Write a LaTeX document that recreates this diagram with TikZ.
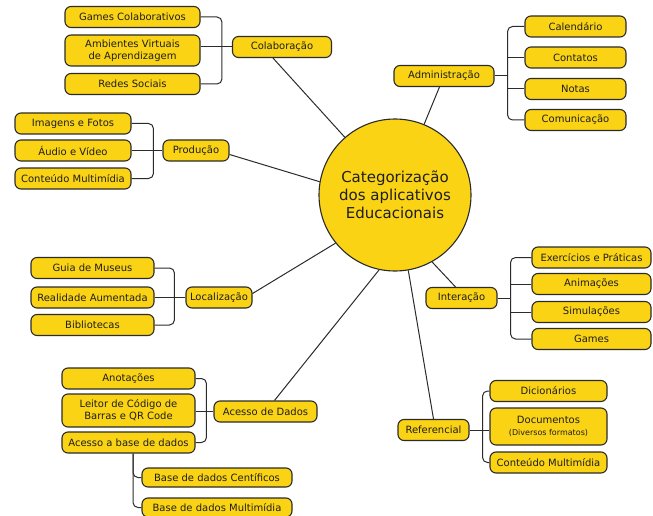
\documentclass[tikz,border=0pt]{standalone}
\usepackage{fontspec}
\setmainfont{DejaVu Sans}
\usetikzlibrary{positioning}
\definecolor{amarelo}{HTML}{FAD315}
\definecolor{contorno}{HTML}{2B2B2B}
\definecolor{texto}{HTML}{1E1E1E}

\begin{document}
\begin{tikzpicture}[
  x=1pt, y=-1pt,
  box/.style={draw=contorno, fill=amarelo, line width=1.1pt, rounded corners=6pt,
              align=center, inner sep=1pt, minimum height=21pt, text=texto,
              font=\fontsize{10}{12}\selectfont},
  link/.style={draw=contorno, line width=1pt},
  chave/.style={link, rounded corners=5pt}
]
\useasboundingbox (0,0) rectangle (653,516);

% centro
\node[circle, draw=contorno, fill=amarelo, line width=1.1pt, minimum size=152pt,
      align=center, text=texto, font=\fontsize{15}{18}\selectfont] (cat) at (395,195)
      {Categorização\\dos aplicativos\\ Educacionais};

% Colaboração
\node[box, minimum width=99pt] (colab) at (282,47) {Colaboração};
\node[box, minimum width=135pt] (games) at (132.5,17) {Games Colaborativos};
\node[box, minimum width=135pt, minimum height=31pt] (ava) at (132.5,50.5) {Ambientes Virtuais\\de Aprendizagem};
\node[box, minimum width=135pt] (redes) at (132.5,84) {Redes Sociais};
\draw[chave] (games.east) -| ([xshift=-10pt]colab.west) |- (redes.east);
\draw[link] (ava.east |- colab.west) -- (colab.west);

% Produção
\node[box, minimum width=66pt] (prod) at (196,150.5) {Produção};
\node[box, minimum width=116pt] (img) at (73,123.5) {Imagens e Fotos};
\node[box, minimum width=116pt] (audio) at (73,150.5) {Áudio e Vídeo};
\node[box, minimum width=116pt] (multi) at (73,178.5) {Conteúdo Multimídia};
\draw[chave] (img.east) -| ([xshift=-9pt]prod.west) |- (multi.east);
\draw[link] (audio.east) -- (prod.west);

% Administração
\node[box, minimum width=100pt] (admin) at (444,76) {Administração};
\node[box, minimum width=101pt] (cal) at (575.5,26.5) {Calendário};
\node[box, minimum width=101pt] (contatos) at (575.5,57.5) {Contatos};
\node[box, minimum width=101pt] (notas) at (575.5,89) {Notas};
\node[box, minimum width=101pt] (comunic) at (575.5,120) {Comunicação};
\coordinate (admbr) at ([xshift=13pt]admin.east);
\draw[chave] (cal.west) -| (admbr) |- (comunic.west);
\draw[link] (admin.east) -- (admbr);
\draw[link] (contatos.west) -- (contatos.west -| admbr);
\draw[link] (notas.west) -- (notas.west -| admbr);

% Localização
\node[box, minimum width=66pt] (loc) at (219,297.5) {Localização};
\node[box, minimum width=123pt] (guia) at (92.5,268) {Guia de Museus};
\node[box, minimum width=123pt] (realidade) at (92.5,297.5) {Realidade Aumentada};
\node[box, minimum width=123pt] (biblio) at (92.5,325) {Bibliotecas};
\draw[chave] (guia.east) -| ([xshift=-11pt]loc.west) |- (biblio.east);
\draw[link] (realidade.east) -- (loc.west);

% Acesso de Dados
\node[box, minimum width=103pt] (acesso) at (265.5,411.5) {Acesso de Dados};
\node[box, minimum width=133pt] (anot) at (128.5,378.5) {Anotações};
\node[box, minimum width=133pt, minimum height=33pt] (leitor) at (128.5,410.5) {Leitor de Código de\\Barras e QR Code};
\node[box, minimum width=133pt] (acbase) at (128.5,442.5) {Acesso a base de dados};
\draw[chave] (anot.east) -| ([xshift=-7pt]acesso.west) |- (acbase.east);
\draw[link] (leitor.east |- acesso.west) -- (acesso.west);
\node[box, minimum width=150pt, minimum height=19pt] (cient) at (217,477.5) {Base de dados Centíficos};
\node[box, minimum width=150pt, minimum height=19pt] (basemm) at (217,507.5) {Base de dados Multimídia};
\draw[chave] ([xshift=4.5pt]acbase.south) |- (cient.west);
\draw[chave] ([xshift=4.5pt]acbase.south) |- (basemm.west);

% Interação
\node[box, minimum width=71pt] (inter) at (461.5,298) {Interação};
\node[box, minimum width=119pt] (exerc) at (591.5,257.5) {Exercícios e Práticas};
\node[box, minimum width=119pt] (anim) at (591.5,284) {Animações};
\node[box, minimum width=119pt] (simul) at (591.5,312) {Simulações};
\node[box, minimum width=119pt] (gamesi) at (591.5,339) {Games};
\coordinate (intbr) at ([xshift=13pt]inter.east);
\draw[chave] (exerc.west) -| (intbr) |- (gamesi.west);
\draw[link] (inter.east) -- (intbr);
\draw[link] (anim.west) -- (anim.west -| intbr);
\draw[link] (simul.west) -- (simul.west -| intbr);

% Referencial
\node[box, minimum width=71pt] (refer) at (433.5,430) {Referencial};
\node[box, minimum width=117pt] (dic) at (548.5,391) {Dicionários};
\node[box, minimum width=117pt, minimum height=37pt] (docs) at (548.5,426.5)
      {Documentos\\{\fontsize{8}{10}\selectfont (Diversos formatos)}};
\node[box, minimum width=117pt] (refmm) at (548.5,462.5) {Conteúdo Multimídia};
\draw[chave] (dic.west) -| ([xshift=13pt]refer.east) |- (refmm.west);
\draw[link] (refer.east) -- (refer.east -| docs.west);

% ligações ao centro
\draw[link] (cat.131) -- ([xshift=-9pt]colab.south);
\draw[link] (cat.170) -- ([yshift=-4pt]prod.east);
\draw[link] (cat) -- (admin);
\draw[link] (cat.219) -- ([yshift=4pt]loc.east);
\draw[link] (cat.258) -- ([xshift=9pt]acesso.north);
\draw[link] (cat.299) -- ([xshift=-6pt]inter.north);
\draw[link] (cat.280) -- (refer.north);
\end{tikzpicture}
\end{document}
